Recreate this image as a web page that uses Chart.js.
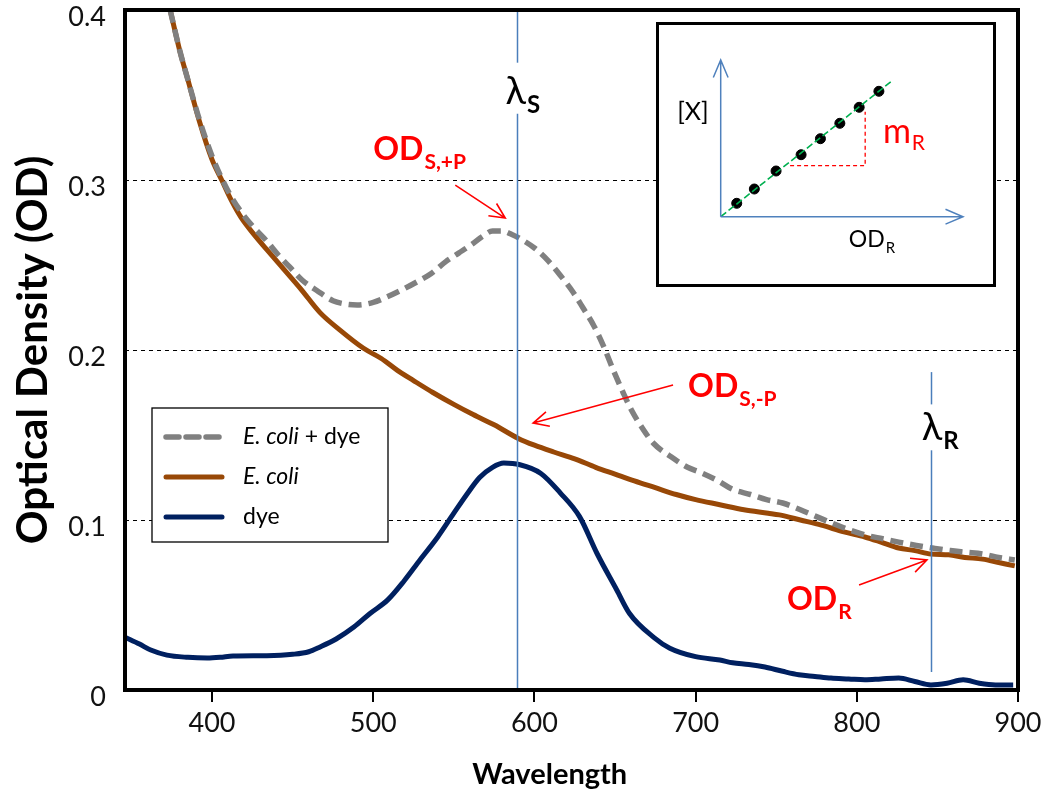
<!DOCTYPE html>
<html>
<head>
<meta charset="utf-8">
<script src="https://cdn.jsdelivr.net/npm/chart.js@4.4.0/dist/chart.umd.min.js"></script>
<style>
body { margin: 0; background: #fff; }
#wrap { position: relative; width: 1049px; height: 789px; }
#insetBox { position: absolute; left: 656px; top: 22px; width: 340px; height: 265px; border: 3px solid #000; box-sizing: border-box; background: #fff; }
</style>
</head>
<body>
<div id="wrap">
  <canvas id="main" width="1049" height="789"></canvas>
  <div id="insetBox"><canvas id="inset" width="334" height="259"></canvas></div>
</div>
<script>
// spectra (wavelength in nm, optical density)
const ecoliDyeWl = [374,380,385,392,400,406,412,419,426,434,441,448,456,465,475,483,490,500,508,517,527,536,545,553,561,568,574,580,586,592,600,608,616,624,630,637,643,649,655,660,667,674,685,695,703,714,723,734,744,754,765,775,785,796,806,816,826,837,847,858,868,878,888,898];
const ecoliDyeOd = [0.400,0.376,0.359,0.336,0.314,0.301,0.290,0.280,0.272,0.264,0.256,0.249,0.241,0.235,0.229,0.227,0.2265,0.228,0.231,0.235,0.240,0.245,0.252,0.257,0.262,0.267,0.270,0.270,0.268,0.265,0.260,0.253,0.244,0.234,0.225,0.214,0.202,0.188,0.175,0.165,0.154,0.145,0.137,0.131,0.128,0.123,0.118,0.115,0.112,0.110,0.106,0.102,0.098,0.094,0.091,0.089,0.087,0.085,0.0835,0.082,0.081,0.080,0.078,0.0765];

const ecoliWl = [374,380,385,392,400,406,412,418,426,434,445,455,467,479,494,505,515,525,537,550,562,575,590,600,612,625,638,650,662,675,688,700,715,730,745,752,765,778,792,805,815,826,836,846,857,867,878,888,898];
const ecoliOd = [0.400,0.376,0.359,0.335,0.312,0.300,0.288,0.278,0.268,0.259,0.247,0.236,0.222,0.212,0.201,0.195,0.188,0.182,0.175,0.168,0.162,0.156,0.148,0.144,0.140,0.136,0.131,0.127,0.123,0.119,0.115,0.112,0.109,0.106,0.104,0.103,0.100,0.097,0.093,0.090,0.087,0.0835,0.082,0.080,0.0795,0.078,0.077,0.075,0.073];

const dyeWl = [346,355,362,372,385,397,405,413,434,450,460,467,477,488,498,509,519,529,540,550,558,566,574,581,591,604,616,628,639,651,659,674,684,700,715,723,733,743,754,764,774,784,795,805,815,826,836,846,856,866,876,886,897];
const dyeOd = [0.031,0.027,0.0235,0.0205,0.0192,0.0188,0.0192,0.0200,0.0202,0.021,0.0225,0.0253,0.030,0.037,0.045,0.053,0.064,0.0765,0.090,0.104,0.115,0.125,0.131,0.1335,0.1325,0.1274,0.116,0.102,0.080,0.059,0.045,0.031,0.0246,0.0196,0.0176,0.016,0.015,0.0135,0.011,0.009,0.008,0.007,0.0065,0.006,0.0065,0.007,0.005,0.003,0.004,0.006,0.004,0.003,0.003];

const xTicks = [400, 500, 600, 700, 800, 900];
const yTicks = [0, 0.1, 0.2, 0.3, 0.4];
const lambdaS = 589;
const lambdaR = 846;

// inset: calibration sketch ([X] against OD_R)
const insetDotsX = [1.6, 3.36, 5.53, 8.03, 9.96, 11.9, 13.83, 15.8];
const insetDotsY = [1.34, 2.77, 4.57, 6.2, 7.8, 9.34, 10.94, 12.54];
const insetFitX = [0, 17.0];
const insetFitY = [0, 13.5];
const insetSlopeX = [6.93, 14.43, 14.43];
const insetSlopeY = [5.1, 5.1, 10.5];

const FONT = "Lato, 'DejaVu Sans', sans-serif";
const pts = (xs, ys) => xs.map((x, i) => ({ x: x, y: ys[i] }));

function arrow(ctx, x1, y1, x2, y2, len, ang) {
  const a = Math.atan2(y2 - y1, x2 - x1);
  ctx.beginPath();
  ctx.moveTo(x1, y1);
  ctx.lineTo(x2, y2);
  ctx.moveTo(x2 - len * Math.cos(a - ang), y2 - len * Math.sin(a - ang));
  ctx.lineTo(x2, y2);
  ctx.lineTo(x2 - len * Math.cos(a + ang), y2 - len * Math.sin(a + ang));
  ctx.stroke();
}

function subText(ctx, x, y, main, sub, mainFont, subFont, drop) {
  ctx.textAlign = 'left';
  ctx.textBaseline = 'alphabetic';
  ctx.font = mainFont;
  ctx.fillText(main, x, y);
  const w = ctx.measureText(main).width;
  ctx.font = subFont;
  ctx.fillText(sub, x + w + 1, y + drop);
}

const legendItems = [
  [{ t: 'E. coli', it: true }, { t: ' + dye' }],
  [{ t: 'E. coli', it: true }],
  [{ t: 'dye' }]
];

const decor = {
  id: 'decor',
  afterDatasetsDraw(chart) {
    const { ctx, chartArea: a, scales: { x, y } } = chart;
    ctx.save();

    // wavelength markers
    ctx.strokeStyle = '#4a7ebb';
    ctx.lineWidth = 1.5;
    [[lambdaS, [[0.4, 0.369], [0.339, 0]]], [lambdaR, [[0.187, 0.168], [0.141, 0.0106]]]].forEach(([wl, segs]) => {
      const px = Math.round(x.getPixelForValue(wl)) + 0.5;
      segs.forEach(s => {
        ctx.beginPath();
        ctx.moveTo(px, y.getPixelForValue(s[0]));
        ctx.lineTo(px, y.getPixelForValue(s[1]));
        ctx.stroke();
      });
    });

    // lambda labels
    ctx.fillStyle = '#000';
    ctx.font = '38px ' + FONT;
    let lw = ctx.measureText('λ').width;
    subText(ctx, x.getPixelForValue(lambdaS) - lw / 2 - 1, y.getPixelForValue(0.345), 'λ', 'S', '38px ' + FONT, 'bold 24px ' + FONT, 9);
    subText(ctx, x.getPixelForValue(lambdaR) - lw / 2 + 1, y.getPixelForValue(0.147), 'λ', 'R', '38px ' + FONT, 'bold 24px ' + FONT, 9);

    // red OD labels and arrows
    ctx.fillStyle = '#ff0000';
    ctx.strokeStyle = '#ff0000';
    ctx.lineWidth = 1.6;
    const big = 'bold 32px ' + FONT, small = 'bold 21px ' + FONT;
    subText(ctx, x.getPixelForValue(500), y.getPixelForValue(0.312), 'OD', 'S,+P', big, small, 9);
    subText(ctx, x.getPixelForValue(695.3), y.getPixelForValue(0.1724), 'OD', 'S,-P', big, small, 9);
    subText(ctx, x.getPixelForValue(756.7), y.getPixelForValue(0.047), 'OD', 'R', big, small, 9);
    arrow(ctx, x.getPixelForValue(550.9), y.getPixelForValue(0.297), x.getPixelForValue(581.9), y.getPixelForValue(0.2776), 17, 0.45);
    arrow(ctx, x.getPixelForValue(686), y.getPixelForValue(0.1794), x.getPixelForValue(599.2), y.getPixelForValue(0.157), 17, 0.45);
    arrow(ctx, x.getPixelForValue(801.4), y.getPixelForValue(0.0618), x.getPixelForValue(843.5), y.getPixelForValue(0.0765), 17, 0.45);

    // plot frame
    ctx.strokeStyle = '#000';
    ctx.lineWidth = 4;
    ctx.strokeRect(a.left, a.top, a.right - a.left, a.bottom - a.top);

    // legend
    const lx = a.left + 27, ly = a.top + 398;
    ctx.fillStyle = '#fff';
    ctx.fillRect(lx, ly, 236, 134);
    ctx.lineWidth = 1.3;
    ctx.strokeRect(lx, ly, 236, 134);
    chart.data.datasets.forEach((ds, i) => {
      const yy = ly + 29 + i * 40;
      ctx.strokeStyle = ds.borderColor;
      ctx.lineWidth = ds.borderWidth;
      ctx.lineCap = 'round';
      ctx.setLineDash(ds.borderDash || []);
      ctx.beginPath();
      ctx.moveTo(lx + 14, yy);
      ctx.lineTo(lx + 70, yy);
      ctx.stroke();
      ctx.setLineDash([]);
      ctx.lineCap = 'butt';
      let tx = lx + 91;
      ctx.fillStyle = '#000';
      ctx.textBaseline = 'middle';
      ctx.textAlign = 'left';
      legendItems[i].forEach(p => {
        ctx.font = (p.it ? 'italic ' : '') + '23px ' + FONT;
        ctx.fillText(p.t, tx, yy);
        tx += ctx.measureText(p.t).width;
      });
    });
    ctx.restore();
  }
};

new Chart(document.getElementById('main').getContext('2d'), {
  type: 'line',
  data: {
    datasets: [
      { label: 'E. coli + dye', data: pts(ecoliDyeWl, ecoliDyeOd), borderColor: '#808080', borderWidth: 5.5, borderDash: [13, 7] },
      { label: 'E. coli', data: pts(ecoliWl, ecoliOd), borderColor: '#984807', borderWidth: 5 },
      { label: 'dye', data: pts(dyeWl, dyeOd), borderColor: '#002060', borderWidth: 5 }
    ]
  },
  options: {
    responsive: false,
    animation: false,
    layout: { padding: { top: 10, right: 31, left: 0, bottom: 0 } },
    elements: { point: { radius: 0 }, line: { cubicInterpolationMode: 'monotone' } },
    plugins: { legend: { display: false }, tooltip: { enabled: false } },
    scales: {
      x: {
        type: 'linear', min: 346, max: 900,
        afterBuildTicks: s => { s.ticks = xTicks.map(v => ({ value: v })); },
        afterFit: s => { s.height = 99; s.paddingLeft = 0; s.paddingRight = 0; },
        border: { display: false },
        grid: { drawOnChartArea: false, drawTicks: true, tickLength: 12, color: '#000', lineWidth: 2 },
        ticks: { font: { family: FONT, size: 27 }, color: '#111', padding: 5, maxRotation: 0 },
        title: { display: true, text: 'Wavelength\u2003\u2003', color: '#000', font: { family: FONT, size: 29, weight: 'bold', lineHeight: 1 }, padding: { top: 0, bottom: 0 } }
      },
      y: {
        min: 0, max: 0.4,
        afterBuildTicks: s => { s.ticks = yTicks.map(v => ({ value: v })); },
        afterFit: s => { s.width = 125; s.paddingTop = 0; s.paddingBottom = 0; },
        border: { display: false, dash: [4, 4] },
        grid: { drawTicks: false, lineWidth: 1, color: c => (c.tick && c.tick.value > 0 && c.tick.value < 0.4) ? '#000' : 'rgba(0,0,0,0)' },
        ticks: { font: { family: FONT, size: 27 }, color: '#111', padding: 19, labelOffset: 7 },
        title: { display: true, text: 'Optical Density (OD)', color: '#000', font: { family: FONT, size: 42, weight: 'bold', lineHeight: 1.2 }, padding: { top: 8, bottom: 0 } }
      }
    }
  },
  plugins: [decor]
});

// inset chart
const insetDecor = {
  id: 'insetDecor',
  afterDatasetsDraw(chart) {
    const { ctx, scales: { x, y } } = chart;
    ctx.save();
    ctx.strokeStyle = '#4f81bd';
    ctx.lineWidth = 1.5;
    [0, 1].forEach(i => {
      const p = chart.getDatasetMeta(i).data;
      arrow(ctx, p[0].x, p[0].y, p[1].x, p[1].y, 19, 0.4);
    });
    ctx.fillStyle = '#000';
    ctx.font = '25px ' + FONT;
    ctx.textAlign = 'center';
    ctx.textBaseline = 'middle';
    ctx.fillText('[X]', x.getPixelForValue(-2.77), y.getPixelForValue(10.47));
    subText(ctx, x.getPixelForValue(12.8), y.getPixelForValue(-3.0), 'OD', 'R', '23px ' + FONT, '15px ' + FONT, 6);
    ctx.fillStyle = '#ff0000';
    subText(ctx, x.getPixelForValue(16.2), y.getPixelForValue(7.4), 'm', 'R', '34px ' + FONT, '21px ' + FONT, 7);
    ctx.restore();
  }
};

new Chart(document.getElementById('inset').getContext('2d'), {
  type: 'scatter',
  data: {
    datasets: [
      { data: pts([0, 24.2], [0, 0]), showLine: true, borderColor: 'rgba(0,0,0,0)', pointRadius: 0 },
      { data: pts([0, 0], [0, 15.67]), showLine: true, borderColor: 'rgba(0,0,0,0)', pointRadius: 0 },
      { data: pts(insetFitX, insetFitY), showLine: true, borderColor: '#00b050', borderWidth: 1.6, borderDash: [7, 3], pointRadius: 0 },
      { data: pts(insetSlopeX, insetSlopeY), showLine: true, borderColor: '#ff0000', borderWidth: 1.3, borderDash: [4, 3], pointRadius: 0 },
      { data: pts(insetDotsX, insetDotsY), showLine: false, pointRadius: 5, pointBackgroundColor: '#000', pointBorderColor: '#000' }
    ]
  },
  options: {
    responsive: false,
    animation: false,
    layout: { padding: { left: 61.7, top: 35, right: 30, bottom: 67.3 } },
    plugins: { legend: { display: false }, tooltip: { enabled: false } },
    scales: {
      x: { type: 'linear', min: 0, max: 24.2, display: false },
      y: { type: 'linear', min: 0, max: 15.67, display: false }
    }
  },
  plugins: [insetDecor]
});
</script>
</body>
</html>
